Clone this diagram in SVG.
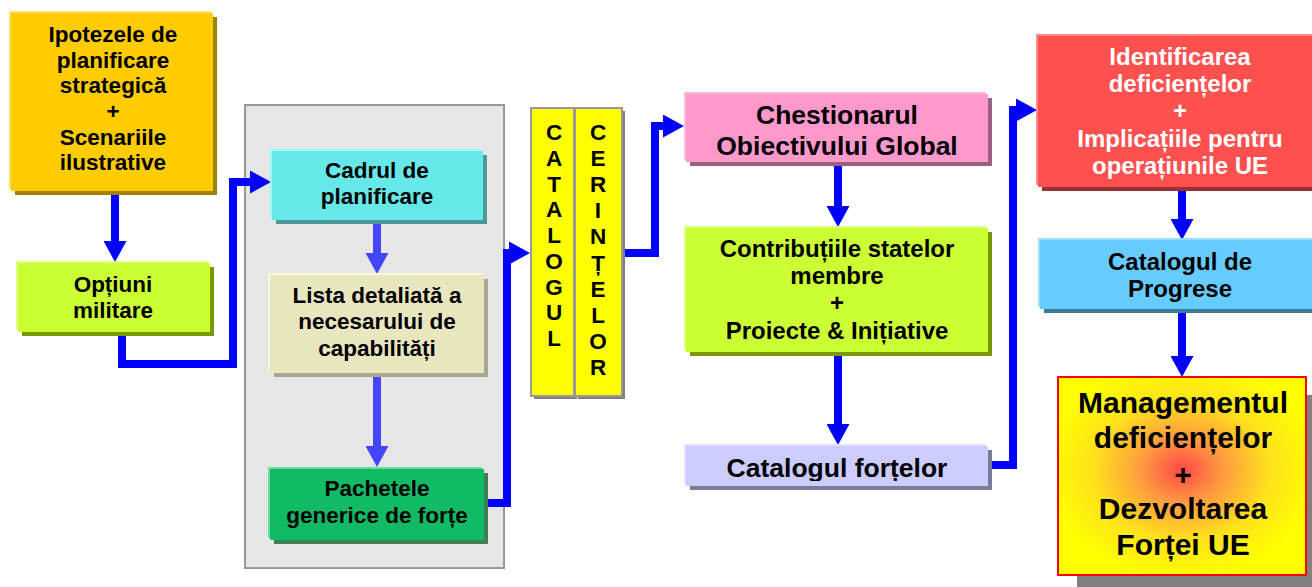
<svg xmlns="http://www.w3.org/2000/svg" width="1312" height="587" viewBox="0 0 1312 587">
<style>
  text { font-family: "Liberation Sans", Arial, sans-serif; font-weight: bold; text-anchor: middle; fill: #000; }
  .t22 { font-size: 22.5px; }
  .t24 { font-size: 24px; }
  .t26 { font-size: 26.5px; }
  .t30 { font-size: 30px; }
  .white { fill: #fff; }
  .conn { fill: none; stroke: #0000FF; stroke-width: 8; stroke-linejoin: miter; marker-end: url(#ah); }
  .conn2 { fill: none; stroke: #4545FF; stroke-width: 8; marker-end: url(#ah2); }
  .col { fill: #FFFF00; stroke: #999; stroke-width: 2; }
</style>
<defs>
  <marker id="ah" markerUnits="userSpaceOnUse" viewBox="0 0 21 23" markerWidth="21" markerHeight="23" refX="1" refY="11.5" orient="auto">
    <path d="M0,0 L21,11.5 L0,23 z" fill="#0000FF"/>
  </marker>
  <marker id="ah2" markerUnits="userSpaceOnUse" viewBox="0 0 21 23" markerWidth="21" markerHeight="23" refX="1" refY="11.5" orient="auto">
    <path d="M0,0 L21,11.5 L0,23 z" fill="#4545FF"/>
  </marker>
  <radialGradient id="mg" cx="0.5" cy="0.47" r="0.55">
    <stop offset="0" stop-color="#FF4848"/>
    <stop offset="0.3" stop-color="#FF9A40"/>
    <stop offset="0.65" stop-color="#FFE21C"/>
    <stop offset="1" stop-color="#FFFF00"/>
  </radialGradient>
  <clipPath id="cfclip"><rect x="686" y="446" width="302" height="35"/></clipPath>
</defs>

<!-- gray panel -->
<rect id="panel" x="245" y="105" width="259" height="463" fill="#E6E6E6" stroke="#999" stroke-width="2"/>

<g id="connectors">
  <path class="conn" d="M115,191 V242"/>
  <path class="conn" d="M122,332 V364 H233 V182 H251"/>
  <path class="conn2" d="M377,220 V254"/>
  <path class="conn2" d="M377,373 V447"/>
  <path class="conn" d="M484,503 H507 V253 H510"/>
  <path class="conn" d="M622,253 H655 V126 H664"/>
  <path class="conn" d="M838,162 V207"/>
  <path class="conn" d="M838,352 V425"/>
  <path class="conn" d="M988,465 H1013 V110 H1017"/>
  <path class="conn" d="M1182,187 V220"/>
  <path class="conn" d="M1182,310 V357"/>
</g>

<g id="ipotezele">
  <rect x="15" y="17" width="202" height="178" fill="#9E8200"/>
  <rect x="9" y="11" width="202" height="178" fill="#FFE066"/>
  <rect x="11" y="13" width="202" height="178" fill="#FFCC00"/>
  <text class="t22" x="113" y="42">Ipotezele de</text>
  <text class="t22" x="113" y="68">planificare</text>
  <text class="t22" x="113" y="93">strategică</text>
  <text class="t22" x="113" y="119">+</text>
  <text class="t22" x="113" y="145">Scenariile</text>
  <text class="t22" x="113" y="170">ilustrative</text>
</g>

<g id="optiuni">
  <rect x="22" y="267" width="192" height="69" fill="#7A9900"/>
  <rect x="16" y="261" width="192" height="69" fill="#E0FF80"/>
  <rect x="18" y="263" width="192" height="69" fill="#CCFF33"/>
  <text class="t22" x="113" y="292">Opțiuni</text>
  <text class="t22" x="113" y="318">militare</text>
</g>

<g id="cadrul">
  <rect x="276" y="155" width="211" height="69" fill="#4D9999"/>
  <rect x="270" y="149" width="211" height="69" fill="#99FFFF"/>
  <rect x="272" y="151" width="211" height="69" fill="#66E8E8"/>
  <text class="t22" x="377" y="178">Cadrul de</text>
  <text class="t22" x="377" y="204">planificare</text>
</g>

<g id="lista">
  <rect x="274" y="279" width="214" height="98" fill="#A8A690"/>
  <rect x="268" y="273" width="214" height="98" fill="#FAF8DC"/>
  <rect x="270" y="275" width="214" height="98" fill="#E8E6BE"/>
  <text class="t22" x="377" y="303">Lista detaliată a</text>
  <text class="t22" x="377" y="329">necesarului de</text>
  <text class="t22" x="377" y="356">capabilități</text>
</g>

<g id="pachetele">
  <rect x="274" y="473" width="214" height="71" fill="#3D8055"/>
  <rect x="268" y="467" width="214" height="71" fill="#66DD99"/>
  <rect x="270" y="469" width="214" height="71" fill="#11BB66"/>
  <text class="t22" x="377" y="496">Pachetele</text>
  <text class="t22" x="377" y="523">generice de forțe</text>
</g>

<g id="catalogul-cerintelor">
  <rect x="534" y="111" width="43" height="288" fill="#808080"/>
  <rect x="578" y="111" width="47" height="288" fill="#808080"/>
  <rect class="col" x="531" y="108" width="43" height="288"/>
  <rect class="col" x="575" y="108" width="47" height="288"/>
  <text class="t22" x="554" y="140">C</text>
  <text class="t22" x="554" y="166">A</text>
  <text class="t22" x="554" y="192">T</text>
  <text class="t22" x="554" y="217">A</text>
  <text class="t22" x="554" y="243">L</text>
  <text class="t22" x="554" y="269">O</text>
  <text class="t22" x="554" y="295">G</text>
  <text class="t22" x="554" y="320">U</text>
  <text class="t22" x="554" y="346">L</text>
  <text class="t22" x="598" y="140">C</text>
  <text class="t22" x="598" y="166">E</text>
  <text class="t22" x="598" y="192">R</text>
  <text class="t22" x="598" y="218">I</text>
  <text class="t22" x="598" y="244">N</text>
  <text class="t22" x="598" y="271">Ț</text>
  <text class="t22" x="598" y="297">E</text>
  <text class="t22" x="598" y="323">L</text>
  <text class="t22" x="598" y="349">O</text>
  <text class="t22" x="598" y="375">R</text>
</g>

<g id="chestionarul">
  <rect x="690" y="98" width="302" height="68" fill="#996080"/>
  <rect x="684" y="92" width="302" height="68" fill="#FFB8DC"/>
  <rect x="686" y="94" width="302" height="68" fill="#FF99CC"/>
  <text class="t26" x="837" y="124">Chestionarul</text>
  <text class="t26" x="837" y="155">Obiectivului Global</text>
</g>

<g id="contributiile">
  <rect x="690" y="232" width="302" height="124" fill="#7A9900"/>
  <rect x="684" y="226" width="302" height="124" fill="#E0FF80"/>
  <rect x="686" y="228" width="302" height="124" fill="#CCFF33"/>
  <text class="t24" x="837" y="257">Contribuțiile statelor</text>
  <text class="t24" x="837" y="284">membre</text>
  <text class="t24" x="837" y="311">+</text>
  <text class="t24" x="837" y="339">Proiecte &amp; Inițiative</text>
</g>

<g id="catalogul-fortelor">
  <rect x="690" y="450" width="302" height="40" fill="#7A7A99"/>
  <rect x="684" y="444" width="302" height="40" fill="#E0E0FF"/>
  <rect x="686" y="446" width="302" height="40" fill="#CCCCFF"/>
  <text class="t26" x="837" y="477" clip-path="url(#cfclip)">Catalogul forțelor</text>
</g>

<g id="identificarea">
  <rect x="1042" y="40" width="280" height="151" fill="#993333"/>
  <rect x="1036" y="34" width="280" height="151" fill="#FF8A8A"/>
  <rect x="1038" y="36" width="280" height="151" fill="#FF5050"/>
  <text class="t24 white" x="1180" y="65">Identificarea</text>
  <text class="t24 white" x="1180" y="92">deficiențelor</text>
  <text class="t24 white" x="1180" y="119">+</text>
  <text class="t24 white" x="1180" y="147">Implicațiile pentru</text>
  <text class="t24 white" x="1180" y="174">operațiunile UE</text>
</g>

<g id="progrese">
  <rect x="1044" y="244" width="280" height="69" fill="#3D7A99"/>
  <rect x="1038" y="238" width="280" height="69" fill="#99DDFF"/>
  <rect x="1040" y="240" width="280" height="69" fill="#66CCFF"/>
  <text class="t24" x="1180" y="270">Catalogul de</text>
  <text class="t24" x="1180" y="297">Progrese</text>
</g>

<g id="managementul">
  <rect x="1077" y="395" width="240" height="200" fill="#808080"/>
  <rect x="1058" y="377" width="248" height="198" fill="url(#mg)" stroke="#FF0000" stroke-width="2"/>
  <text class="t30" x="1183" y="413">Managementul</text>
  <text class="t30" x="1183" y="448">deficiențelor</text>
  <text class="t30" x="1183" y="485">+</text>
  <text class="t30" x="1183" y="519">Dezvoltarea</text>
  <text class="t30" x="1183" y="555">Forței UE</text>
</g>
</svg>
